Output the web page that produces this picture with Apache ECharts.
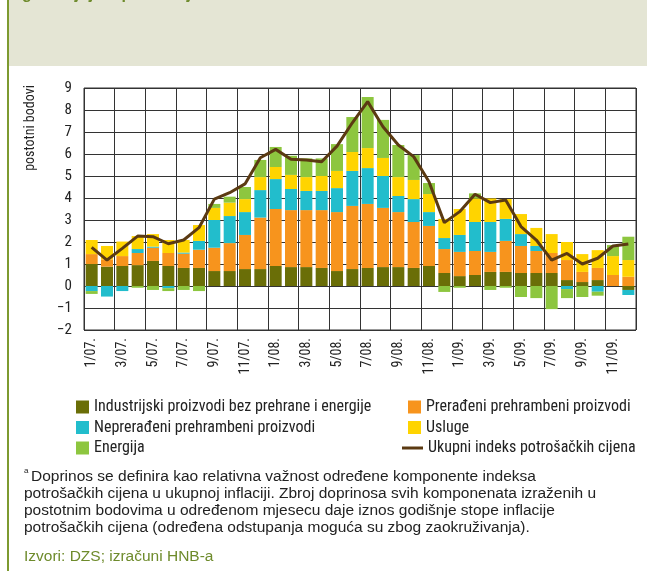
<!DOCTYPE html>
<html>
<head>
<meta charset="utf-8">
<script src="https://cdn.jsdelivr.net/npm/echarts@6/dist/echarts.min.js"></script>
<style>html,body{margin:0;padding:0;background:#fff;}#c{width:647px;height:571px;}</style>
</head>
<body>
<div id="c"></div>
<script>
const months = ['1/07.','2/07.','3/07.','4/07.','5/07.','6/07.','7/07.','8/07.','9/07.','10/07.','11/07.','12/07.',
  '1/08.','2/08.','3/08.','4/08.','5/08.','6/08.','7/08.','8/08.','9/08.','10/08.','11/08.','12/08.',
  '1/09.','2/09.','3/09.','4/09.','5/09.','6/09.','7/09.','8/09.','9/09.','10/09.','11/09.','12/09.'];
const industrijski = [1.00,0.88,0.91,0.95,1.14,0.91,0.82,0.82,0.68,0.68,0.77,0.77,
  0.91,0.86,0.86,0.82,0.68,0.77,0.82,0.86,0.86,0.82,0.91,0.59,
  0.45,0.50,0.64,0.64,0.59,0.59,0.59,0.27,0.18,0.27,0.00,-0.18];
const preradjeni = [0.45,0.33,0.45,0.55,0.60,0.59,0.65,0.83,1.06,1.27,1.55,2.34,
  2.59,2.59,2.59,2.63,2.68,2.87,2.91,2.69,2.50,2.09,1.82,1.09,
  1.10,1.09,0.91,1.41,1.23,1.00,0.91,0.91,0.46,0.55,0.50,0.42];
const nepreradjeni = [-0.23,-0.48,-0.23,0.18,0.05,-0.10,0.05,0.40,1.26,1.23,1.04,1.25,
  1.36,0.96,0.87,0.87,1.09,1.59,1.63,1.45,0.73,1.04,0.63,0.50,
  0.77,1.32,1.36,1.00,0.54,0.23,0.00,-0.14,0.00,-0.26,0.00,-0.23];
const usluge = [0.64,0.61,0.66,0.59,0.57,0.59,0.57,0.72,0.55,0.61,0.59,0.59,
  0.55,0.64,0.63,0.68,0.78,0.86,0.91,0.82,0.86,0.87,0.82,0.87,
  1.18,1.07,1.07,0.90,0.91,0.82,0.86,0.82,0.81,0.81,0.86,0.76];
const energija = [-0.13,0.00,0.00,-0.08,-0.18,-0.13,-0.18,-0.23,0.18,0.27,0.55,0.78,
  0.91,0.87,0.85,0.80,1.22,1.59,2.32,1.73,1.46,1.13,0.50,-0.27,
  -0.08,0.23,-0.18,-0.08,-0.50,-0.55,-1.05,-0.41,-0.50,-0.18,0.50,1.06];
const ukupni = [1.76,1.18,1.71,2.27,2.24,1.92,2.09,2.65,3.95,4.24,4.64,5.83,
  6.21,5.76,5.73,5.65,6.36,7.42,8.38,7.24,6.41,5.88,4.74,2.88,
  3.38,4.17,3.79,3.91,2.70,2.09,1.18,1.48,1.00,1.26,1.82,1.91];
const seriesNames = ['Industrijski proizvodi bez prehrane i energije','Prerađeni prehrambeni proizvodi',
  'Neprerađeni prehrambeni proizvodi','Usluge','Energija','Ukupni indeks potrošačkih cijena'];
const yTicks = {min: -2, max: 9, step: 1};
const footLines = ['Doprinos se definira kao relativna važnost određene komponente indeksa',
  'potrošačkih cijena u ukupnoj inflaciji. Zbroj doprinosa svih komponenata izraženih u',
  'postotnim bodovima u određenom mjesecu daje iznos godišnje stope inflacije',
  'potrošačkih cijena (određena odstupanja moguća su zbog zaokruživanja).'];

const colors = ['#6a6e07','#f7941d','#22bdcc','#ffd400','#8dc63f','#5b3a12'];
const narrow = "'Liberation Sans Narrow','Arial Narrow','Roboto Condensed','Liberation Sans',Arial,sans-serif";
const sans = "'Liberation Sans',Arial,sans-serif";

const chart = echarts.init(document.getElementById('c'), null, {renderer: 'canvas'});
const barData = [industrijski, preradjeni, nepreradjeni, usluge, energija];
const series = barData.map((d, i) => ({
  name: seriesNames[i], type: 'bar', stack: 'total', data: d, barWidth: 12,
  itemStyle: {color: colors[i]}, emphasis: {disabled: true}
}));
series.push({
  name: seriesNames[5], type: 'line', data: ukupni, symbol: 'none', z: 10,
  lineStyle: {color: colors[5], width: 3}, itemStyle: {color: colors[5]}
});

const graphic = [
  {type: 'rect', shape: {x: 8, y: 0, width: 639, height: 66}, style: {fill: '#e4e5d4'}, silent: true, z: -10},
  {type: 'rect', shape: {x: 7, y: 0, width: 2, height: 571}, style: {fill: '#7d9a30'}, silent: true},
  {type: 'text', x: 22, y: 3, style: {text: 'godišnjoj stopi inflacije', fill: '#6e8b2c', font: "bold 16px " + sans, verticalAlign: 'bottom'}},
  {type: 'text', x: 30, y: 128, rotation: Math.PI / 2, style: {text: 'postotni bodovi', fill: '#222', font: "14px " + narrow, align: 'center', verticalAlign: 'middle'}},
  {type: 'text', x: 24, y: 471, style: {text: 'a', fill: '#222', font: "8px " + sans, verticalAlign: 'middle'}}
];
footLines.forEach((t, i) => {
  graphic.push({type: 'text', x: i === 0 ? 31 : 24, y: 477 + i * 17, style: {text: t, fill: '#222', font: "15.5px " + sans, verticalAlign: 'middle'}});
});
graphic.push({type: 'text', x: 24, y: 557, style: {text: 'Izvori: DZS; izračuni HNB-a', fill: '#6e8b2c', font: "15.5px " + sans, verticalAlign: 'middle'}});

const legendText = {fontFamily: narrow, fontSize: 16, color: '#222', lineHeight: 16};
chart.setOption({
  animation: false,
  backgroundColor: '#fff',
  grid: {left: 84, top: 88, right: 11, bottom: 241, show: true, borderColor: '#333', borderWidth: 1, containLabel: false},
  legend: [
    {left: 71, top: 394, orient: 'vertical', itemWidth: 13, itemHeight: 13, itemGap: 4.5, icon: 'rect',
     data: [seriesNames[0], seriesNames[2], seriesNames[4]], textStyle: legendText, selectedMode: false},
    {left: 403, top: 394, orient: 'vertical', itemWidth: 13, itemHeight: 13, itemGap: 4.5, icon: 'rect',
     data: [seriesNames[1], seriesNames[3]], textStyle: legendText, selectedMode: false},
    {left: 397, top: 435, orient: 'vertical', itemWidth: 21, itemHeight: 3, itemGap: 4.5, icon: 'rect',
     data: [seriesNames[5]], textStyle: legendText, selectedMode: false}
  ],
  xAxis: {
    type: 'category', data: months, boundaryGap: true,
    axisLine: {show: false}, axisTick: {show: false},
    splitLine: {show: true, interval: 1, lineStyle: {color: '#333', width: 1}},
    axisLabel: {interval: 1, rotate: 90, margin: 8, fontFamily: narrow, fontSize: 14, color: '#222'}
  },
  yAxis: {
    type: 'value', min: yTicks.min, max: yTicks.max, interval: yTicks.step,
    axisLine: {show: false}, axisTick: {show: false},
    splitLine: {show: true, lineStyle: {color: '#333', width: 1}},
    axisLabel: {margin: 12, fontFamily: narrow, fontSize: 15, color: '#222',
      formatter: v => String(v).replace('-', '\u2212')}
  },
  graphic: graphic,
  series: series
});
</script>
</body>
</html>
